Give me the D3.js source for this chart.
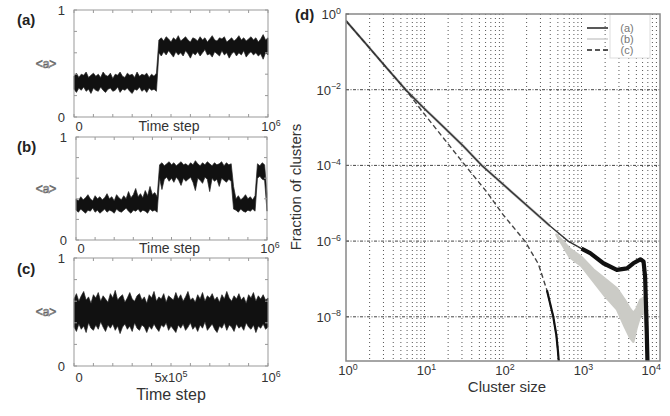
<!DOCTYPE html>
<html>
<head>
<meta charset="utf-8">
<script src="https://cdn.jsdelivr.net/npm/d3@7"></script>
<style>
  body { margin: 0; background: #fff; }
  text { font-family: "Liberation Sans", Arial, sans-serif; fill: #333; }
</style>
</head>
<body>
<script>
// sample times shared by the three time-series panels (units of 10^6 steps)
const sampleTime = [0, .0125, .025, .0375, .05, .0625, .075, .0875, .1, .1125, .125, .1375, .15, .1625, .175, .1875, .2, .2125, .225, .2375,
  .25, .2625, .275, .2875, .3, .3125, .325, .3375, .35, .3625, .375, .3875, .4, .4125, .425, .4375, .45, .4625, .475, .4875,
  .5, .5125, .525, .5375, .55, .5625, .575, .5875, .6, .6125, .625, .6375, .65, .6625, .675, .6875, .7, .7125, .725, .7375,
  .75, .7625, .775, .7875, .8, .8125, .825, .8375, .85, .8625, .875, .8875, .9, .9125, .925, .9375, .95, .9625, .975, .9875, 1];

// ---- Panel (a): upper / lower envelope of the noisy <a> trace
const aHigh = [0.38, 0.41, 0.37, 0.40, 0.39, 0.42, 0.37, 0.39, 0.41, 0.38, 0.40, 0.37, 0.42, 0.39, 0.38, 0.41, 0.36, 0.40, 0.39, 0.42,
  0.38, 0.37, 0.41, 0.39, 0.40, 0.37, 0.42, 0.38, 0.40, 0.39, 0.41, 0.37, 0.40, 0.38, 0.41,
  0.72, 0.74, 0.71, 0.75, 0.73, 0.70, 0.74, 0.72, 0.76, 0.71, 0.73, 0.75, 0.72, 0.70, 0.74, 0.73, 0.71, 0.75, 0.72, 0.74,
  0.70, 0.73, 0.76, 0.72, 0.71, 0.74, 0.73, 0.75, 0.70, 0.72, 0.74, 0.71, 0.73, 0.76, 0.72, 0.74, 0.71, 0.73, 0.75, 0.72,
  0.74, 0.70, 0.73, 0.77, 0.72, 0.74];
const aLow = [0.26, 0.23, 0.27, 0.25, 0.28, 0.24, 0.26, 0.22, 0.27, 0.25, 0.24, 0.28, 0.25, 0.23, 0.26, 0.27, 0.24, 0.25, 0.28, 0.23,
  0.26, 0.25, 0.27, 0.24, 0.22, 0.26, 0.25, 0.28, 0.24, 0.26, 0.23, 0.27, 0.25, 0.26, 0.24,
  0.60, 0.57, 0.61, 0.58, 0.62, 0.59, 0.56, 0.61, 0.58, 0.60, 0.57, 0.62, 0.59, 0.55, 0.60, 0.58, 0.61, 0.57, 0.60, 0.63,
  0.58, 0.59, 0.56, 0.61, 0.59, 0.57, 0.62, 0.58, 0.60, 0.55, 0.59, 0.61, 0.57, 0.60, 0.58, 0.62, 0.56, 0.59, 0.61, 0.58,
  0.60, 0.57, 0.59, 0.54, 0.60, 0.58];

// ---- Panel (b)
const bHigh = [0.40, 0.38, 0.42, 0.39, 0.41, 0.44, 0.40, 0.38, 0.43, 0.40, 0.42, 0.39, 0.41, 0.45, 0.40, 0.42, 0.38, 0.44, 0.41, 0.39,
  0.43, 0.40, 0.47, 0.41, 0.44, 0.50, 0.42, 0.45, 0.41, 0.48, 0.43, 0.52, 0.44, 0.46, 0.42,
  0.73, 0.75, 0.72, 0.74, 0.76, 0.73, 0.75, 0.72, 0.74, 0.76, 0.73, 0.74, 0.72, 0.75, 0.73, 0.77, 0.74, 0.72, 0.75, 0.73,
  0.76, 0.74, 0.72, 0.75, 0.73, 0.74, 0.76, 0.72, 0.75, 0.73, 0.74,
  0.52,
  0.40, 0.43, 0.39, 0.41, 0.44, 0.40, 0.42, 0.39, 0.43,
  0.74, 0.72, 0.75, 0.73,
  0.45];
const bLow = [0.29, 0.27, 0.30, 0.28, 0.26, 0.29, 0.28, 0.31, 0.27, 0.29, 0.26, 0.28, 0.30, 0.27, 0.29, 0.28, 0.26, 0.30, 0.28, 0.27,
  0.29, 0.31, 0.28, 0.26, 0.29, 0.28, 0.30, 0.27, 0.29, 0.28, 0.26, 0.30, 0.28, 0.29, 0.27,
  0.60, 0.49, 0.59, 0.61, 0.57, 0.60, 0.56, 0.61, 0.58, 0.53, 0.60, 0.57, 0.59, 0.61, 0.56, 0.48, 0.60, 0.58, 0.55, 0.61,
  0.59, 0.47, 0.60, 0.57, 0.59, 0.52, 0.60, 0.58, 0.56, 0.59, 0.57,
  0.30,
  0.29, 0.27, 0.30, 0.28, 0.27, 0.29, 0.28, 0.30, 0.28,
  0.60, 0.62, 0.59, 0.58,
  0.28];

// ---- Panel (c)
const cHigh = [0.62, 0.67, 0.60, 0.65, 0.69, 0.61, 0.64, 0.58, 0.66, 0.63, 0.68, 0.60, 0.65, 0.62, 0.59, 0.67, 0.63, 0.70, 0.61, 0.64,
  0.66, 0.59, 0.63, 0.68, 0.62, 0.60, 0.65, 0.67, 0.61, 0.64, 0.58, 0.66, 0.63, 0.69, 0.60, 0.64, 0.62, 0.67, 0.59, 0.65,
  0.63, 0.61, 0.68, 0.62, 0.66, 0.60, 0.64, 0.69, 0.61, 0.63, 0.59, 0.66, 0.62, 0.68, 0.60, 0.65, 0.63, 0.67, 0.61, 0.64,
  0.59, 0.66, 0.62, 0.69, 0.63, 0.60, 0.65, 0.62, 0.67, 0.61, 0.64, 0.58, 0.66, 0.63, 0.68, 0.60, 0.65, 0.62, 0.66, 0.61, 0.63];
const cLow = [0.36, 0.32, 0.39, 0.34, 0.37, 0.31, 0.40, 0.35, 0.33, 0.38, 0.34, 0.41, 0.36, 0.32, 0.38, 0.35, 0.39, 0.33, 0.37, 0.30,
  0.36, 0.39, 0.34, 0.37, 0.32, 0.40, 0.35, 0.33, 0.38, 0.36, 0.31, 0.37, 0.34, 0.39, 0.35, 0.32, 0.38, 0.36, 0.40, 0.33,
  0.37, 0.34, 0.31, 0.38, 0.35, 0.39, 0.33, 0.36, 0.40, 0.34, 0.37, 0.32, 0.38, 0.35, 0.41, 0.33, 0.36, 0.39, 0.34, 0.31,
  0.37, 0.35, 0.40, 0.33, 0.38, 0.36, 0.32, 0.39, 0.35, 0.37, 0.33, 0.40, 0.36, 0.34, 0.38, 0.31, 0.37, 0.35, 0.39, 0.34, 0.36];

// ---- Panel (d): fraction of clusters vs cluster size
const solidSize = [1, 1.78, 3.16, 5.75, 10, 17.8, 31.6, 53.7, 100, 200, 398, 676, 1000, 1290, 1900, 2820, 3800, 4570, 5620, 6170, 6460, 6600, 6760, 6920];
const solidFrac = [0.66, 0.166, 0.0417, 0.01, 3.16e-3, 1e-3, 3.16e-4, 1e-4, 3.16e-5, 8.9e-6, 2.5e-6, 1e-6, 6.3e-7, 4.8e-7, 2.6e-7, 1.74e-7, 1.9e-7, 2.6e-7, 3.3e-7, 2.9e-7, 1.15e-7, 2.75e-8, 5e-9, 6.8e-10];

const graySize = [479, 708, 1000, 1410, 2000, 2820, 3550, 4170, 4570, 5010, 5620, 6310, 6760, 7000];
const grayHigh = [1.48e-6, 6.3e-7, 3.8e-7, 1.78e-7, 1e-7, 5.6e-8, 2.8e-8, 1.6e-8, 1.26e-8, 1.6e-8, 2.8e-8, 3.2e-8, 2e-8, 2.5e-9];
const grayLow = [1.48e-6, 3.8e-7, 2.2e-7, 8.9e-8, 3.5e-8, 1.6e-8, 5.6e-9, 2.8e-9, 2.2e-9, 5e-9, 1.1e-8, 1.4e-8, 3.2e-9, 6.8e-10];

const dashSize = [1, 3.16, 5.75, 10, 17.8, 33, 62, 100, 190, 282, 363, 437, 479, 501, 513];
const dashFrac = [0.66, 0.0417, 0.01, 2.24e-3, 5e-4, 1e-4, 2e-5, 5e-6, 1e-6, 2.5e-7, 5e-8, 1e-8, 3.2e-9, 1.26e-9, 6.8e-10];

const yMajor = [1, 1e-2, 1e-4, 1e-6, 1e-8];
const yMajorExp = ["0", "\u22122", "\u22124", "\u22126", "\u22128"];
const xMajor = [1, 10, 100, 1000, 10000];
const xMajorExp = ["0", "1", "2", "3", "4"];
const legendNames = ["(a)", "(b)", "(c)"];

const svg = d3.select("body").append("svg")
  .attr("width", 670)
  .attr("height", 416);

// power of ten label with superscript
function powLabel(sel, exp, size) {
  sel.append("tspan").text("10");
  sel.append("tspan").attr("dy", -size * 0.42).attr("font-size", size * 0.68).text(exp);
}

// ---------- left time-series panels ----------
function timePanel(p) {
  const x = d3.scaleLinear().domain([0, 1]).range([p.x0, p.x1]);
  const y = d3.scaleLinear().domain([0, 1]).range([p.y1, p.y0]);
  const g = svg.append("g");

  const area = d3.area()
    .x(i => x(sampleTime[i]))
    .y0(i => y(p.lo[i]))
    .y1(i => y(p.hi[i]));
  g.append("path")
    .datum(d3.range(sampleTime.length))
    .attr("d", area)
    .attr("fill", "#111")
    .attr("stroke", "#222")
    .attr("stroke-width", 0.7)
    .attr("stroke-linejoin", "miter");

  // inward ticks on all sides
  x.ticks(10).forEach(t => {
    g.append("line").attr("x1", x(t)).attr("x2", x(t)).attr("y1", p.y1).attr("y2", p.y1 - 3).attr("stroke", "#999");
    g.append("line").attr("x1", x(t)).attr("x2", x(t)).attr("y1", p.y0).attr("y2", p.y0 + 3).attr("stroke", "#999");
  });
  y.ticks(5).forEach(v => {
    g.append("line").attr("x1", p.x0).attr("x2", p.x0 + 3).attr("y1", y(v)).attr("y2", y(v)).attr("stroke", "#999");
    g.append("line").attr("x1", p.x1).attr("x2", p.x1 - 3).attr("y1", y(v)).attr("y2", y(v)).attr("stroke", "#999");
  });

  g.append("rect")
    .attr("x", p.x0).attr("y", p.y0)
    .attr("width", p.x1 - p.x0).attr("height", p.y1 - p.y0)
    .attr("fill", "none").attr("stroke", "#999").attr("stroke-width", 1);

  // y labels
  g.append("text").attr("x", p.x0 - 9).attr("y", y(1) + 5).attr("text-anchor", "end").attr("font-size", 13).text("1");
  g.append("text").attr("x", p.x0 - 9).attr("y", y(0) + 5).attr("text-anchor", "end").attr("font-size", 13).text("0");
  g.append("text").attr("x", 46).attr("y", y(0.5) + 4).attr("text-anchor", "middle")
    .attr("font-size", 12).style("fill", "#fff").attr("stroke", "#666").attr("stroke-width", 0.7).text("<a>");

  // panel tag
  g.append("text").attr("x", 17).attr("y", p.tagY).attr("font-size", 15).attr("font-weight", "bold").style("fill", "#222").text(p.tag);

  // x labels
  const ly = p.y1 + p.tickGap;
  g.append("text").attr("x", x(0) + 5).attr("y", ly).attr("text-anchor", "middle").attr("font-size", 13).text("0");
  const e = g.append("text").attr("x", x(1) + 3).attr("y", ly).attr("text-anchor", "middle").attr("font-size", 13);
  powLabel(e, "6", 13);
  if (p.mid) {
    const m = g.append("text").attr("x", x(0.5)).attr("y", ly).attr("text-anchor", "middle").attr("font-size", 13);
    m.append("tspan").text("5x10");
    m.append("tspan").attr("dy", -5.5).attr("font-size", 9).text("5");
    g.append("text").attr("x", x(0.5)).attr("y", ly + 18).attr("text-anchor", "middle").attr("font-size", 16).text("Time step");
  } else {
    g.append("text").attr("x", x(0.5) - 2).attr("y", ly).attr("text-anchor", "middle").attr("font-size", 14).text("Time step");
  }
}

timePanel({ x0: 74, x1: 268, y0: 10, y1: 117, hi: aHigh, lo: aLow, tag: "(a)", tagY: 25, tickGap: 14 });
timePanel({ x0: 76, x1: 267, y0: 137, y1: 240, hi: bHigh, lo: bLow, tag: "(b)", tagY: 152, tickGap: 13 });
timePanel({ x0: 74, x1: 268, y0: 258, y1: 366, hi: cHigh, lo: cLow, tag: "(c)", tagY: 274, tickGap: 16, mid: true });

// ---------- panel (d) ----------
const X0 = 346, X1 = 660, Y0 = 14, Y1 = 361;
const x = d3.scaleLog().domain([1, 1e4]).range([X0, X1]);
const y = d3.scaleLog().domain([6.8e-10, 1]).range([Y1, Y0]);
const gd = svg.append("g");

gd.append("clipPath").attr("id", "clipd")
  .append("rect").attr("x", X0).attr("y", Y0).attr("width", X1 - X0).attr("height", Y1 - Y0);

// vertical dotted grid at every log tick
x.ticks().filter(t => t > 1 && t < 1e4).forEach(t => {
  gd.append("line")
    .attr("x1", x(t)).attr("x2", x(t)).attr("y1", Y0).attr("y2", Y1)
    .attr("stroke", "#555").attr("stroke-width", 1).attr("stroke-dasharray", "1,3");
});
// horizontal dash-dot grid at labelled decades
yMajor.filter(v => v < 1).forEach(v => {
  gd.append("line")
    .attr("x1", X0).attr("x2", X1).attr("y1", y(v)).attr("y2", y(v))
    .attr("stroke", "#444").attr("stroke-width", 1).attr("stroke-dasharray", "3,1.5,1,1.5");
});

// legend box (covers the grid)
gd.append("rect").attr("x", 610).attr("y", Y0).attr("width", 40).attr("height", 44)
  .attr("fill", "#fff").attr("stroke", "#ddd");

const curves = gd.append("g").attr("clip-path", "url(#clipd)");
const line = d3.line().x(d => x(d[0])).y(d => y(d[1]));

// (b) grey: follows (a) until it splits, then a noisy band
curves.append("path")
  .datum(d3.zip(solidSize, solidFrac).filter(d => d[0] <= graySize[0]))
  .attr("d", line).attr("fill", "none").attr("stroke", "#b8b8b8").attr("stroke-width", 2.6);
curves.append("path")
  .datum(d3.range(graySize.length))
  .attr("d", d3.area().x(i => x(graySize[i])).y0(i => y(grayLow[i])).y1(i => y(grayHigh[i])))
  .attr("fill", "#cbcbc6").attr("stroke", "#cbcbc6").attr("stroke-width", 2.5).attr("stroke-linejoin", "round");

// (c) dashed, solid at its steep tail
curves.append("path")
  .datum(d3.zip(dashSize, dashFrac))
  .attr("d", line).attr("fill", "none").attr("stroke", "#444").attr("stroke-width", 1.4).attr("stroke-dasharray", "5,3");
curves.append("path")
  .datum(d3.zip(dashSize, dashFrac).filter(d => d[0] >= 363))
  .attr("d", line).attr("fill", "none").attr("stroke", "#111").attr("stroke-width", 2.2);

// (a) solid
curves.append("path")
  .datum(d3.zip(solidSize, solidFrac))
  .attr("d", line).attr("fill", "none").attr("stroke", "#333").attr("stroke-width", 1.4);
curves.append("path")
  .datum(d3.zip(solidSize, solidFrac).filter(d => d[0] >= 800))
  .attr("d", line).attr("fill", "none").attr("stroke", "#111").attr("stroke-width", 4.2).attr("stroke-linejoin", "round");

// legend samples
const legendStyle = [
  { stroke: "#222", dash: null },
  { stroke: "#ccc", dash: null },
  { stroke: "#222", dash: "5,3" }
];
legendNames.forEach((n, i) => {
  const ly = 28 + i * 11;
  const l = gd.append("line").attr("x1", 587).attr("x2", 608).attr("y1", ly).attr("y2", ly)
    .attr("stroke", legendStyle[i].stroke).attr("stroke-width", 1.5);
  if (legendStyle[i].dash) l.attr("stroke-dasharray", legendStyle[i].dash);
  gd.append("text").attr("x", 627).attr("y", ly + 4).attr("text-anchor", "middle")
    .attr("font-size", 11).style("fill", "#777").text(n);
});

// frame
gd.append("rect").attr("x", X0).attr("y", Y0).attr("width", X1 - X0).attr("height", Y1 - Y0)
  .attr("fill", "none").attr("stroke", "#888").attr("stroke-width", 1.5);

// tick labels
yMajor.forEach((v, i) => {
  const t = gd.append("text").attr("x", 341).attr("y", y(v) + 5).attr("text-anchor", "end").attr("font-size", 13);
  powLabel(t, yMajorExp[i], 13);
  gd.append("line").attr("x1", X0).attr("x2", X0 + 3).attr("y1", y(v)).attr("y2", y(v)).attr("stroke", "#666");
});
xMajor.forEach((v, i) => {
  const last = i === xMajor.length - 1;
  const t = gd.append("text")
    .attr("x", last ? x(v) + 1 : x(v) + 2)
    .attr("y", 375)
    .attr("text-anchor", last ? "end" : "middle")
    .attr("font-size", 13);
  powLabel(t, xMajorExp[i], 13);
});

gd.append("text").attr("x", 507).attr("y", 392).attr("text-anchor", "middle").attr("font-size", 15).text("Cluster size");
gd.append("text").attr("transform", "translate(301,187) rotate(-90)").attr("text-anchor", "middle")
  .attr("font-size", 15).text("Fraction of clusters");
gd.append("text").attr("x", 295).attr("y", 20).attr("font-size", 15).attr("font-weight", "bold").style("fill", "#222").text("(d)");
</script>
</body>
</html>
